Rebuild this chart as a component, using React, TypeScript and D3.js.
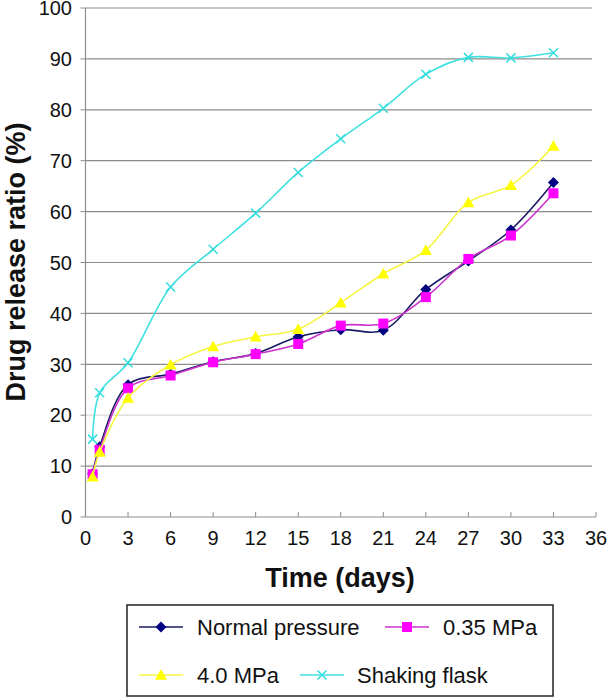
import * as d3 from "d3";

const days = [0.5, 1, 3, 6, 9, 12, 15, 18, 21, 24, 27, 30, 33];
const normalPressure = [8.5, 13.8, 26.0, 28.1, 30.5, 32.1, 35.4, 36.8, 36.7, 44.7, 50.3, 56.4, 65.7];
const mpa035 = [8.4, 13.2, 25.3, 27.8, 30.4, 32.0, 34.0, 37.6, 38.0, 43.2, 50.7, 55.3, 63.6];
const mpa40 = [7.9, 12.8, 23.4, 29.9, 33.5, 35.4, 36.9, 42.1, 47.8, 52.4, 61.8, 65.2, 72.9];
const shakingFlask = [15.3, 24.4, 30.3, 45.2, 52.6, 59.7, 67.7, 74.3, 80.3, 87.0, 90.3, 90.2, 91.2];

const xTicks = [0, 3, 6, 9, 12, 15, 18, 21, 24, 27, 30, 33, 36];
const yTicks = [0, 10, 20, 30, 40, 50, 60, 70, 80, 90, 100];

type Marker = "diamond" | "square" | "triangle" | "cross";

const series: { name: string; values: number[]; line: string; fill: string; marker: Marker }[] = [
  { name: "Normal pressure", values: normalPressure, line: "#1a1a66", fill: "#000080", marker: "diamond" },
  { name: "0.35 MPa", values: mpa035, line: "#cc33cc", fill: "#ff00ff", marker: "square" },
  { name: "4.0 MPa", values: mpa40, line: "#f5f542", fill: "#ffff00", marker: "triangle" },
  { name: "Shaking flask", values: shakingFlask, line: "#40e0e0", fill: "#33dddd", marker: "cross" },
];

const W = 608;
const H = 698;
const M = { left: 85.5, right: 596, top: 8, bottom: 517 };
const FONT = "'Liberation Sans', Arial, sans-serif";

const x = d3.scaleLinear().domain([0, 36]).range([M.left, M.right]);
const y = d3.scaleLinear().domain([0, 100]).range([M.bottom, M.top]);

function MarkerShape({ kind, cx, cy, color }: { kind: Marker; cx: number; cy: number; color: string }) {
  if (kind === "diamond") {
    const r = 5.5;
    return <path d={`M${cx},${cy - r}L${cx + r},${cy}L${cx},${cy + r}L${cx - r},${cy}Z`} fill={color} />;
  }
  if (kind === "square") {
    const r = 5;
    return <rect x={cx - r} y={cy - r} width={2 * r} height={2 * r} fill={color} />;
  }
  if (kind === "triangle") {
    const r = 6;
    return <path d={`M${cx},${cy - r}L${cx + r},${cy + r * 0.8}L${cx - r},${cy + r * 0.8}Z`} fill={color} />;
  }
  const r = 4.5;
  return (
    <path
      d={`M${cx - r},${cy - r}L${cx + r},${cy + r}M${cx - r},${cy + r}L${cx + r},${cy - r}`}
      stroke={color}
      strokeWidth={1.5}
      fill="none"
    />
  );
}

export default function App() {
  const line = d3
    .line<number>()
    .x((_, i) => x(days[i]))
    .y((d) => y(d))
    .curve(d3.curveCatmullRom.alpha(0.5));

  // legend layout
  const legendItems = [
    { s: series[0], lx: 139, tx: 197, cy: 627 },
    { s: series[1], lx: 385, tx: 443, cy: 627 },
    { s: series[2], lx: 139, tx: 197, cy: 675 },
    { s: series[3], lx: 300, tx: 357, cy: 675 },
  ];

  return (
    <div style={{ position: "absolute", left: 0, top: 0 }}>
      <svg width={W} height={H} style={{ display: "block", background: "#fff" }}>
        {/* grid */}
        {yTicks.slice(1).map((t) => (
          <line
            key={t}
            x1={M.left}
            x2={M.right - 4}
            y1={y(t)}
            y2={y(t)}
            stroke={t === 20 ? "#d8d8d8" : "#8c8c8c"}
            strokeWidth={1.2}
          />
        ))}
        {/* axes */}
        <line x1={M.left} x2={M.left} y1={M.top} y2={M.bottom} stroke="#8c8c8c" strokeWidth={1.2} />
        <line x1={M.left} x2={M.right} y1={M.bottom} y2={M.bottom} stroke="#8c8c8c" strokeWidth={1.2} />
        {yTicks.map((t) => (
          <g key={t}>
            <line x1={M.left - 5} x2={M.left} y1={y(t)} y2={y(t)} stroke="#8c8c8c" />
            <text
              x={72}
              y={y(t)}
              dy="0.36em"
              textAnchor="end"
              fontFamily={FONT}
              fontSize={20}
              fill="#111"
            >
              {t}
            </text>
          </g>
        ))}
        {xTicks.map((t) => (
          <g key={t}>
            <line x1={x(t)} x2={x(t)} y1={M.bottom} y2={M.bottom - 5} stroke="#8c8c8c" />
            <text x={x(t)} y={545} textAnchor="middle" fontFamily={FONT} fontSize={20} fill="#111">
              {t}
            </text>
          </g>
        ))}
        <text x={340} y={587} textAnchor="middle" fontFamily={FONT} fontSize={27} fontWeight="bold" fill="#111">
          Time (days)
        </text>
        <text
          transform={`translate(25,262) rotate(-90)`}
          textAnchor="middle"
          fontFamily={FONT}
          fontSize={27}
          fontWeight="bold"
          fill="#111"
        >
          Drug release ratio (%)
        </text>

        {/* series */}
        {series.map((s) => (
          <g key={s.name}>
            <path d={line(s.values) ?? ""} fill="none" stroke={s.line} strokeWidth={1.6} />
            {s.values.map((v, i) => (
              <MarkerShape key={i} kind={s.marker} cx={x(days[i])} cy={y(v)} color={s.fill} />
            ))}
          </g>
        ))}

        {/* legend */}
        <rect x={127} y={605} width={426} height={91} fill="#fff" stroke="#222" strokeWidth={1.5} />
        {legendItems.map(({ s, lx, tx, cy }) => (
          <g key={s.name}>
            <line x1={lx} x2={lx + 44} y1={cy} y2={cy} stroke={s.line} strokeWidth={1.6} />
            <MarkerShape kind={s.marker} cx={lx + 22} cy={cy} color={s.fill} />
            <text x={tx} y={cy} dy="0.36em" fontFamily={FONT} fontSize={22} fill="#111">
              {s.name}
            </text>
          </g>
        ))}
      </svg>
    </div>
  );
}
